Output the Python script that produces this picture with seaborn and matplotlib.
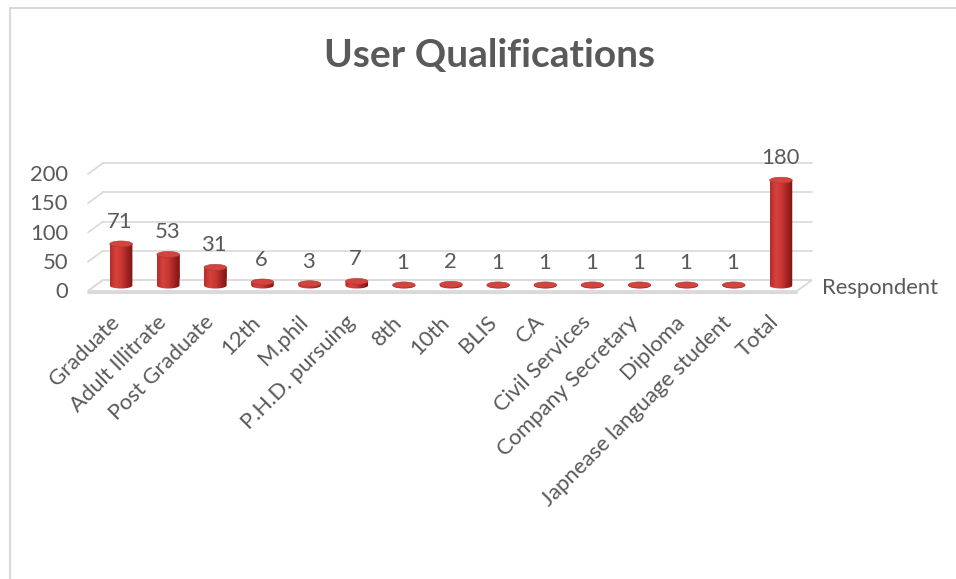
import numpy as np
import pandas as pd
import matplotlib
matplotlib.use("Agg")
import matplotlib.pyplot as plt
import seaborn as sns
from matplotlib import transforms as mtrans
from matplotlib.patches import Ellipse, Polygon, PathPatch
from matplotlib.path import Path
from matplotlib.colors import LinearSegmentedColormap

# ---------------- data ----------------
categories = ["Graduate", "Adult Illitrate", "Post Graduate", "12th", "M.phil",
              "P.H.D. pursuing", "8th", "10th", "BLIS", "CA", "Civil Services",
              "Company Secretary", "Diploma", "Japnease language student", "Total"]
values = [71, 53, 31, 6, 3, 7, 1, 2, 1, 1, 1, 1, 1, 1, 180]
y_ticks = [0, 50, 100, 150, 200]
title_text = "User Qualifications"
series_name = "Respondent"

# ---------------- figure ----------------
W, H, DPI = 956, 579, 100
sns.set_theme(style="white")
plt.rcParams['font.family'] = ['Lato', 'DejaVu Sans']
TXT = "#595959"
GRID = "#D9D9D9"
FS = 15.8

fig = plt.figure(figsize=(W / DPI, H / DPI), dpi=DPI)
fig.patch.set_facecolor("white")

# front plane of the 3D box (pixel coords from top-left)
X0, X1 = 90, 797
Y0, Y200 = 291, 174
DX, DY = 15, 11          # depth offset of the back wall

ax = fig.add_axes([X0 / W, 1 - Y0 / H, (X1 - X0) / W, (Y0 - Y200) / H])
df = pd.DataFrame({"cat": categories, "val": values})
sns.barplot(data=df, x="cat", y="val", ax=ax, width=0.48, color="#C0322E",
            saturation=1, errorbar=None)
ax.set_xlim(-0.5, len(categories) - 0.5)
ax.set_ylim(0, y_ticks[-1])
ax.axis("off")

# bars sit at mid depth
off = mtrans.ScaledTranslation(DX / 2 / DPI, DY / 2 / DPI, fig.dpi_scale_trans)
trans_off = ax.transData + off
for p in ax.patches:
    p.set_transform(trans_off)

# overlay axes in pixel coordinates for the 3D decorations
ov = fig.add_axes([0, 0, 1, 1], zorder=5)
ov.set_xlim(0, W)
ov.set_ylim(H, 0)
ov.axis("off")

def front_y(v):
    return H - ax.transData.transform((0, v))[1]

# border of chart area (top and left)
ov.plot([10, W], [8, 8], color=GRID, lw=1.5, zorder=1)
ov.plot([10, 10], [8, H], color=GRID, lw=1.5, zorder=1)

# gridlines: left wall diagonals + back wall lines
for v in y_ticks:
    yf = front_y(v)
    ov.plot([X0 - 2, X0 + DX - 2], [yf, yf - DY], color=GRID, lw=1.2, zorder=1)
    if v != 0:
        ov.plot([X0 + DX - 2, X1 + DX], [yf - DY, yf - DY], color=GRID, lw=1.2, zorder=1)
    ov.text(68, yf + 1, f"{v}", ha="right", va="center", fontsize=FS, color=TXT)

# floor slab
floor = Polygon([(X0 - 2, Y0), (X1, Y0), (X1 + DX, Y0 - DY), (X0 + DX - 2, Y0 - DY)],
                closed=True, facecolor="white", edgecolor=GRID, lw=1.3, zorder=1)
ov.add_patch(floor)
ov.plot([X0 - 2, X1], [Y0 + 1.5, Y0 + 1.5], color=GRID, lw=1.5, zorder=1)

# cylinders
cmap = LinearSegmentedColormap.from_list(
    "cyl", ["#B52C29", "#D6423D", "#CA3833", "#A42421", "#7A1514"])
grad = np.linspace(0, 1, 64).reshape(1, -1)
EH = 6.0
for i, (p, val) in enumerate(zip(ax.patches, values)):
    x = p.get_x(); w = p.get_width(); h = p.get_height()
    (lx, by), (rx, ty) = trans_off.transform([(x, 0), (x + w, h)])
    by = H - by; ty = H - ty
    cx = (lx + rx) / 2
    a = (rx - lx) / 2
    th = np.linspace(0, np.pi, 40)
    bottom = [(cx + a * np.cos(t), by + EH / 2 * np.sin(t)) for t in th]
    verts = [(lx, ty), (rx, ty)] + bottom + [(lx, ty)]
    body = PathPatch(Path(verts, closed=True), facecolor="none", edgecolor="none")
    ov.add_patch(body)
    im = ov.imshow(grad, cmap=cmap, aspect="auto", extent=[lx, rx, by + EH, ty],
                   zorder=3, interpolation="bilinear")
    im.set_clip_path(body)
    top = Ellipse((cx, ty), 2 * a, EH, facecolor="#D2443F", edgecolor="#B3322E",
                  lw=0.4, zorder=4)
    ov.add_patch(top)
    ov.text(cx - 1, ty - 22, f"{val}", ha="center", va="center", fontsize=FS, color=TXT)
    ov.text(cx - 5, 319, categories[i], rotation=45,
            rotation_mode="anchor", ha="right", va="center", fontsize=FS, color=TXT)

# legend / series name
ov.text(822, 288, series_name, ha="left", va="center", fontsize=FS, color=TXT)

# title
ov.text(490, 55, title_text, ha="center", va="center", fontsize=28,
        fontweight="bold", color=TXT)

fig.savefig("out.png", dpi=DPI, facecolor="white")
